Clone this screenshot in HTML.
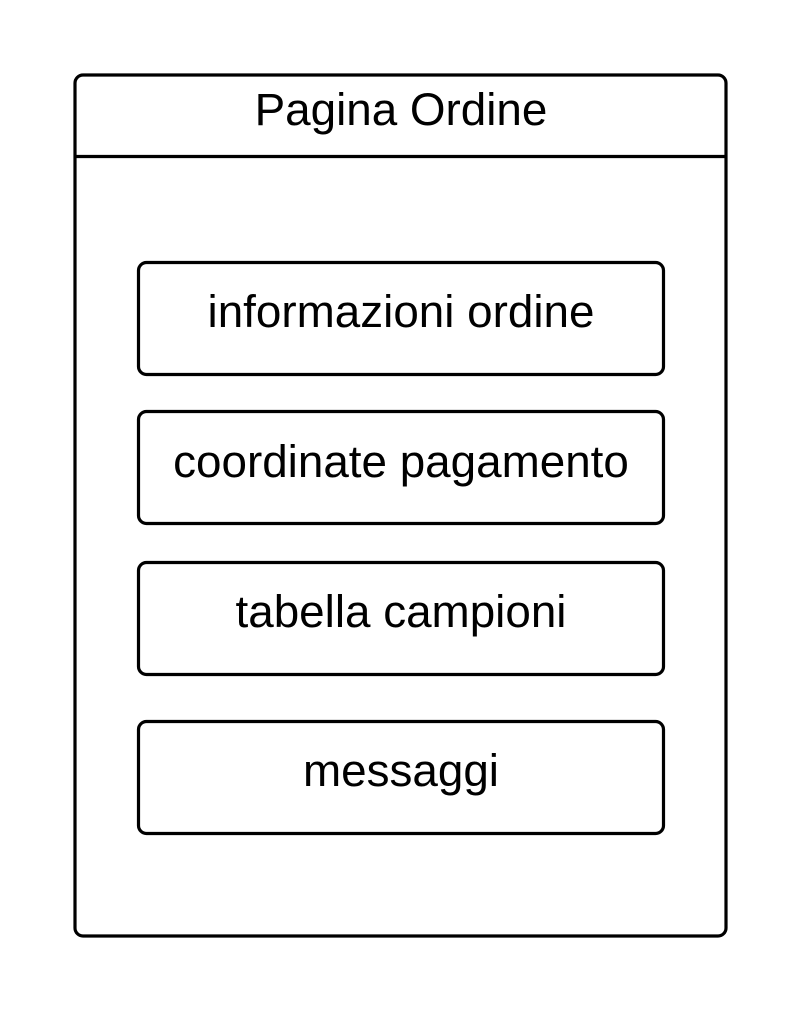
<!DOCTYPE html>
<html><head><style>html,body{margin:0;padding:0;background:#fff;}svg{display:block}</style></head>
<body>
<svg width="803" height="1013" viewBox="0 0 803 1013" xmlns="http://www.w3.org/2000/svg">
<rect width="803" height="1013" fill="#fff"/>
<g fill="none" stroke="#000" stroke-width="3.2">
<rect x="75" y="75" width="651" height="861" rx="8"/>
<line x1="75" y1="156.5" x2="726" y2="156.5"/>
<rect x="138.5" y="262.5" width="525" height="112" rx="8"/>
<rect x="138.5" y="411.5" width="525" height="112" rx="8"/>
<rect x="138.5" y="562.5" width="525" height="112" rx="8"/>
<rect x="138.5" y="721.5" width="525" height="112" rx="8"/>
</g>
<g font-family="Liberation Sans, Arial, sans-serif" font-size="45.8" text-anchor="middle" fill="#000">
<text x="401" y="125">Pagina Ordine</text>
<text x="401" y="327">informazioni ordine</text>
<text x="401" y="477">coordinate pagamento</text>
<text x="401" y="627">tabella campioni</text>
<text x="401" y="786">messaggi</text>
</g>
</svg>
</body></html>
